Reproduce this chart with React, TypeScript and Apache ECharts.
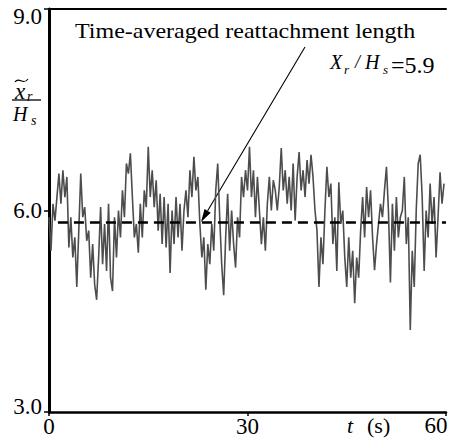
import React, { useEffect, useRef } from 'react';
import * as echarts from 'echarts';

// time axis ticks (s) and ratio axis ticks
const xTicks = [0, 30, 60];
const yTicks = [3.0, 6.0, 9.0];
const sampleStep = 0.3; // seconds between plotted samples

// instantaneous reattachment length ratio x_r / H_s
const ratio = [
  5.9, 5.4, 6.1, 5.85, 6.2, 6.55, 6.1, 6.6, 6.2, 6.5,
  5.45, 5.9, 5.3, 5.6, 4.86, 5.7, 6.55, 5.9, 6.05, 5.55,
  5.7, 5.0, 5.5, 4.9, 4.67, 5.3, 6.05, 5.2, 5.8, 5.1,
  6.1, 5.0, 4.8, 5.9, 5.3, 6.0, 5.6, 6.3, 5.9, 6.7,
  6.55, 6.85, 6.2, 5.6, 5.8, 5.37, 6.1, 5.6, 6.3, 6.05,
  6.95, 6.2, 6.6, 6.05, 6.45, 5.7, 6.25, 5.5, 6.2, 5.45,
  6.1, 5.07, 6.0, 5.5, 6.2, 5.6, 6.1, 5.4, 6.0, 6.3,
  5.9, 6.6, 6.2, 6.8, 6.3, 6.5, 5.8, 5.3, 5.6, 4.82,
  5.5, 5.2, 5.8, 5.4, 6.3, 6.7, 5.9, 5.2, 4.74, 5.6,
  6.25, 5.4, 6.0, 5.5, 5.15, 5.9, 5.6, 6.5, 6.2, 6.6,
  6.3, 6.95, 6.2, 6.6, 5.9, 6.5, 6.0, 5.5, 5.9, 5.4,
  6.1, 6.5, 6.0, 6.45, 6.3, 6.0, 6.35, 6.93, 6.3, 6.6,
  6.1, 6.5, 6.0, 6.7, 5.85, 6.5, 6.87, 6.3, 6.6, 6.2,
  6.75, 6.4, 6.83, 6.5, 6.0, 5.7, 4.86, 5.6, 5.2, 6.0,
  6.65, 6.2, 6.4, 5.5, 5.9, 5.1, 6.42, 5.8, 6.0, 5.3,
  4.86, 5.6, 5.0, 5.4, 4.62, 5.3, 5.0, 5.7, 6.2, 5.6,
  6.35, 5.9, 6.3, 5.6, 5.11, 5.5, 5.8, 6.1, 5.9, 6.3,
  6.65, 6.0, 4.93, 6.1, 5.4, 6.2, 5.6, 5.9, 6.0, 6.5,
  5.5, 5.9, 4.22, 5.4, 4.86, 6.0, 6.7, 6.83, 6.2, 5.1,
  6.0, 5.6, 6.4, 5.8, 6.2, 5.3, 5.9, 6.57, 6.1, 6.4,
];

// time-averaged reattachment length (dashed line) and its printed value
const meanStart = 1.35;
const meanRatio = 5.82;
const meanLabel = '=5.9';
const annotation = 'Time-averaged reattachment length';

const serif = 'Liberation Serif';

function txt(text: string, x: number, y: number, size: number, opts: any = {}) {
  return {
    type: 'text',
    x,
    y,
    scaleX: opts.scaleX ?? 1,
    silent: true,
    style: {
      text,
      fontFamily: serif,
      fontSize: size,
      fontStyle: opts.italic ? 'italic' : 'normal',
      fill: '#000',
      align: opts.align ?? 'left',
      verticalAlign: 'middle',
    },
  };
}

export default function App() {
  const ref = useRef<HTMLDivElement>(null);

  useEffect(() => {
    const chart = echarts.init(ref.current!, null, { renderer: 'svg' });
    const data = ratio.map((v, i) => [+(i * sampleStep).toFixed(2), v]);
    const labelFont = { fontFamily: serif, fontSize: 23, color: '#000' };

    const tip = [201, 222];
    const start = [305, 47];
    const dx = tip[0] - start[0];
    const dy = tip[1] - start[1];
    const len = Math.hypot(dx, dy);
    const ux = dx / len;
    const uy = dy / len;
    const headL = 13;
    const headW = 3.6;
    const bx = tip[0] - ux * headL;
    const by = tip[1] - uy * headL;

    chart.setOption({
      animation: false,
      grid: { left: 49, top: 9, width: 402, height: 403 },
      xAxis: [
        {
          type: 'value',
          min: xTicks[0],
          max: xTicks[2],
          interval: 30,
          axisLine: { lineStyle: { color: '#000', width: 2.5 } },
          axisTick: { show: true, length: 4, lineStyle: { color: '#000', width: 1.5 } },
          splitLine: { show: false },
          axisLabel: {
            ...labelFont,
            margin: 3,
            formatter: (v: number) => (v === xTicks[2] ? '' : String(v)),
          },
        },
        {
          type: 'value',
          position: 'top',
          min: xTicks[0],
          max: xTicks[2],
          axisLine: { lineStyle: { color: '#000', width: 2 } },
          axisTick: { show: false },
          axisLabel: { show: false },
          splitLine: { show: false },
        },
      ],
      yAxis: {
        type: 'value',
        min: yTicks[0],
        max: yTicks[2],
        interval: 3,
        axisLine: { show: true, lineStyle: { color: '#000', width: 3 } },
        axisTick: { show: true, length: 5, lineStyle: { color: '#000', width: 1.5 } },
        splitLine: { show: false },
        axisLabel: {
          ...labelFont,
          margin: 7,
          formatter: (v: number) => {
            const s = v.toFixed(1);
            if (v === yTicks[2]) return '{top|' + s + '}';
            if (v === yTicks[0]) return '{bot|' + s + '}';
            return '{mid|' + s + '}';
          },
          rich: {
            top: { ...labelFont, padding: [14, 0, 0, 0] },
            bot: { ...labelFont, padding: [0, 0, 12, 0] },
            mid: { ...labelFont },
          },
        },
      },
      series: [
        {
          type: 'line',
          data,
          symbol: 'none',
          lineStyle: { color: '#4d4d4d', width: 1.6 },
          z: 2,
        },
        {
          type: 'line',
          data: [
            [meanStart, meanRatio],
            [xTicks[2], meanRatio],
          ],
          symbol: 'none',
          lineStyle: { color: '#000', width: 2.5, type: [10, 6] },
          z: 3,
        },
      ],
      graphic: [
        txt(annotation, 75, 31.5, 20, { scaleX: 1.2 }),
        txt('X', 330, 61.5, 20, { italic: true }),
        txt('r', 344, 69, 13, { italic: true }),
        txt('/', 355, 61.5, 18, { italic: true }),
        txt('H', 365, 61.5, 20, { italic: true }),
        txt('s', 383, 69, 13, { italic: true }),
        txt(meanLabel, 391, 64.5, 24),
        // y-axis title: x~_r / H_s
        {
          type: 'bezierCurve',
          silent: true,
          shape: { x1: 15, y1: 82, cpx1: 19, cpy1: 76, cpx2: 23, cpy2: 86, x2: 28, y2: 79 },
          style: { stroke: '#000', lineWidth: 1.2, fill: null },
        },
        txt('x', 15, 91, 23, { italic: true }),
        txt('r', 27, 96, 14, { italic: true }),
        {
          type: 'line',
          silent: true,
          shape: { x1: 12, y1: 100, x2: 41, y2: 100 },
          style: { stroke: '#000', lineWidth: 1.3 },
        },
        txt('H', 13, 113.5, 20, { italic: true }),
        txt('s', 31, 120, 14, { italic: true }),
        // x-axis title and last tick label
        txt('t', 347, 425, 22, { italic: true }),
        txt('(s)', 367, 425, 22),
        txt(String(xTicks[2]), 436, 425, 23, { align: 'center' }),
        // arrow
        {
          type: 'line',
          silent: true,
          shape: { x1: start[0], y1: start[1], x2: bx, y2: by },
          style: { stroke: '#000', lineWidth: 1.1 },
        },
        {
          type: 'polygon',
          silent: true,
          shape: {
            points: [
              [tip[0], tip[1]],
              [bx + uy * headW, by - ux * headW],
              [bx - uy * headW, by + ux * headW],
            ],
          },
          style: { fill: '#000' },
        },
      ],
    });
    return () => chart.dispose();
  }, []);

  return (
    <div
      ref={ref}
      style={{ position: 'fixed', left: 0, top: 0, width: 449, height: 441, background: '#fff' }}
    />
  );
}
